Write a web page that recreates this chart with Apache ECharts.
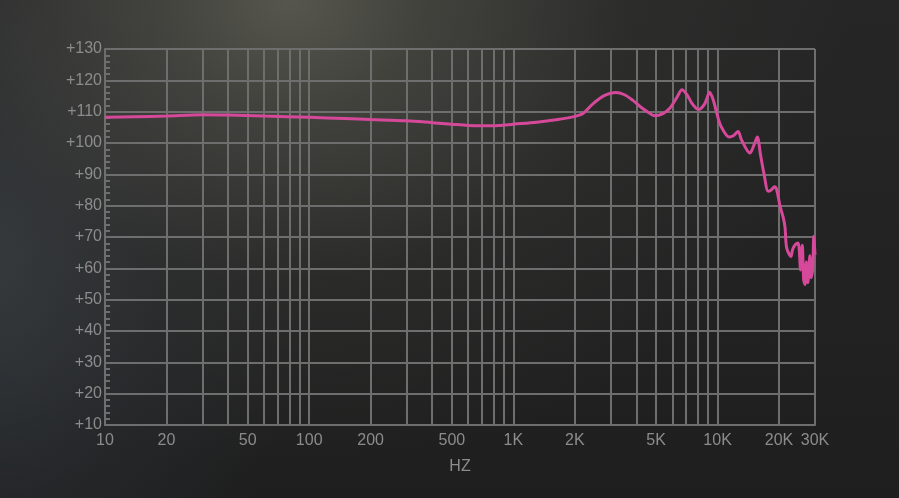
<!DOCTYPE html>
<html>
<head>
<meta charset="utf-8">
<script src="https://cdn.jsdelivr.net/npm/echarts@6/dist/echarts.min.js"></script>
<style>
html,body{margin:0;padding:0;width:899px;height:498px;overflow:hidden;}
body{
  background:
    radial-gradient(ellipse 560px 470px at 290px 0px, rgba(86,86,78,1) 0%, rgba(72,72,66,0.8) 25%, rgba(52,52,50,0.45) 60%, rgba(34,34,34,0) 100%),
    radial-gradient(ellipse 300px 460px at 0px 250px, rgba(54,60,66,0.95) 0%, rgba(42,46,50,0.5) 55%, rgba(34,34,34,0) 100%),
    linear-gradient(to bottom, #262626 0%, #222222 60%, #1e1e1e 100%);
}
#chart{width:899px;height:498px;}
</style>
</head>
<body>
<div id="chart"></div>
<script>
// Frequency response (Hz, dB)
const freqs = [10, 14, 20, 30, 40, 60, 100, 150, 200, 300, 400, 500, 600, 700, 850, 1000, 1300, 1650, 2000, 2200, 2450, 2800, 3170, 3500, 3850, 4200, 4550, 4920, 5400, 5850, 6300, 6700, 7100, 7500, 8050, 8650, 9150, 9550, 9900, 10400, 11400, 12000, 12600, 13100, 14400, 15100, 15650, 16250, 16900, 17700, 18300, 19000, 19500, 20200, 21000, 21400, 21800, 22900, 23300, 24000, 24800, 25500, 26000, 26400, 26800, 27200, 27700, 28300, 28700, 29200, 29600, 30000];
const spl   = [108.2, 108.4, 108.6, 109.0, 108.9, 108.6, 108.2, 107.8, 107.5, 107.1, 106.5, 106.0, 105.6, 105.5, 105.6, 106.0, 106.6, 107.5, 108.5, 109.5, 112.5, 115.2, 116.1, 115.4, 113.6, 111.5, 109.9, 108.7, 109.4, 111.2, 114.4, 117.0, 115.3, 112.6, 110.7, 112.5, 116.2, 113.5, 109.6, 105.3, 101.9, 102.4, 103.7, 101.0, 96.8, 99.5, 101.9, 96.0, 90.0, 84.6, 85.0, 86.0, 85.0, 80.0, 76.0, 73.0, 66.5, 63.8, 66.0, 67.5, 68.1, 59.5, 67.4, 56.4, 54.8, 62.0, 55.4, 64.0, 57.0, 59.5, 70.2, 64.3];
// Grid / label positions on the frequency axis
const freqGrid = [20, 30, 40, 50, 60, 70, 80, 90, 100, 200, 300, 400, 500, 600, 700, 800, 900, 1000, 2000, 3000, 4000, 5000, 6000, 7000, 8000, 9000, 10000, 20000, 30000];
const freqAxisLabels = {10: '10', 100: '100', 1000: '1K', 10000: '10K'};
const freqExtraLabels = {20: '20', 50: '50', 200: '200', 500: '500', 2000: '2K', 5000: '5K', 20000: '20K', 30000: '30K'};
const splMin = 10, splMax = 130, splStep = 10;

const GRID = '#6e6e6e';
const TXT = '#8c8c8c';
const FONT = '"Liberation Sans", Arial, sans-serif';
const FS = 16;

const chart = echarts.init(document.getElementById('chart'), null, {renderer: 'canvas'});

const markData = freqGrid.map(f => ({
  xAxis: f,
  label: freqExtraLabels[f] ? {show: true, formatter: freqExtraLabels[f]} : {show: false}
}));

chart.setOption({
  backgroundColor: 'transparent',
  animation: false,
  grid: {left: 105, right: 84, top: 49, bottom: 73, containLabel: false},
  xAxis: {
    type: 'log',
    logBase: 10,
    min: 10,
    max: 30000,
    splitNumber: 3,
    name: 'HZ',
    nameLocation: 'middle',
    nameGap: 34,
    nameTextStyle: {color: TXT, fontSize: FS, fontFamily: FONT},
    axisLine: {show: true, lineStyle: {color: GRID, width: 2}},
    axisTick: {show: false},
    splitLine: {show: false},
    axisLabel: {
      color: TXT, fontSize: FS, fontFamily: FONT, margin: 8,
      showMaxLabel: false,
      formatter: v => freqAxisLabels[Math.round(v)] || ''
    }
  },
  yAxis: {
    type: 'value',
    min: splMin,
    max: splMax,
    interval: splStep,
    axisLine: {show: true, lineStyle: {color: GRID, width: 2}},
    axisTick: {show: true, inside: true, length: 5, lineStyle: {color: GRID, width: 2}},
    minorTick: {show: true, splitNumber: 5, length: 5, lineStyle: {color: GRID, width: 2}},
    splitLine: {show: true, lineStyle: {color: GRID, width: 2}},
    axisLabel: {
      color: TXT, fontSize: FS, fontFamily: FONT, margin: 3,
      formatter: v => '+' + v
    }
  },
  series: [{
    type: 'line',
    z: 10,
    data: freqs.map((f, i) => [f, spl[i]]),
    showSymbol: false,
    smooth: 0.3,
    lineStyle: {color: '#d6489a', width: 3},
    itemStyle: {color: '#d6489a'},
    silent: true,
    markLine: {
      silent: true,
      symbol: ['none', 'none'],
      animation: false,
      lineStyle: {color: GRID, width: 2, type: 'solid'},
      label: {position: 'start', distance: 8, color: TXT, fontSize: FS, fontFamily: FONT},
      emphasis: {disabled: true},
      data: markData
    }
  }]
});
</script>
</body>
</html>
